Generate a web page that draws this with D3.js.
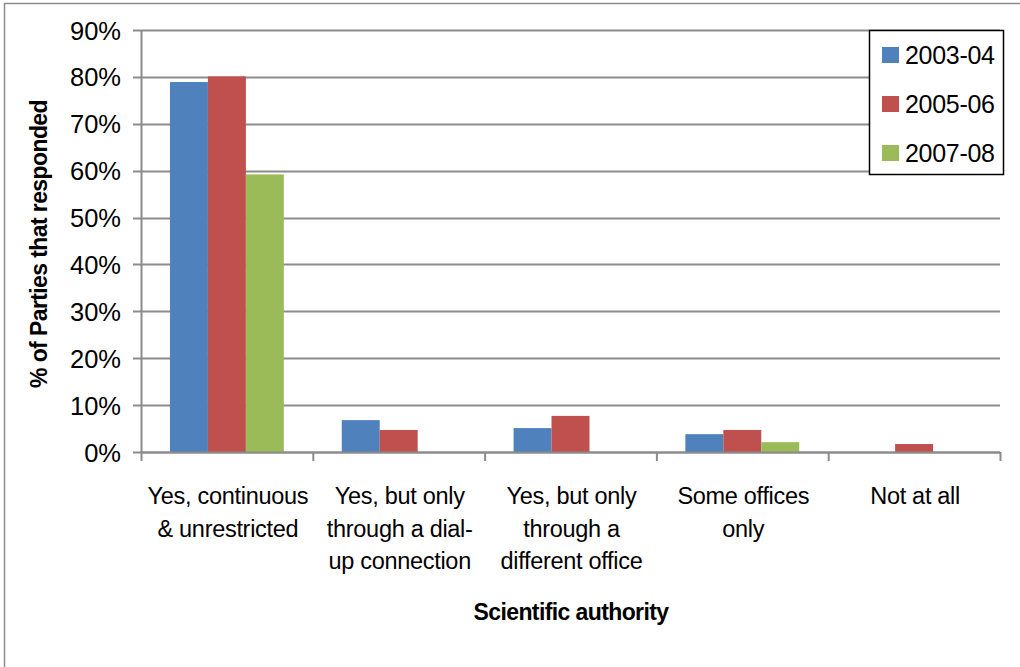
<!DOCTYPE html>
<html><head><meta charset="utf-8">
<script src="https://cdn.jsdelivr.net/npm/d3@7"></script>
<style>
body{margin:0;background:#fff;}
text{font-family:"Liberation Sans",Arial,sans-serif;fill:#000;}
</style></head>
<body><svg id="c" width="1020" height="667"></svg>
<script>
const categories = [
  ["Yes, continuous","& unrestricted"],
  ["Yes, but only","through a dial-","up connection"],
  ["Yes, but only","through a","different office"],
  ["Some offices","only"],
  ["Not at all"]
];
const seriesNames = ["2003-04","2005-06","2007-08"];
const colors = ["#4F81BD","#C0504D","#9BBB59"];
const v2003 = [78.9, 6.8, 5.1, 3.8, 0];
const v2005 = [80.1, 4.7, 7.7, 4.7, 1.7];
const v2007 = [59.2, 0, 0, 2.1, 0];
const yTicks = [0,10,20,30,40,50,60,70,80,90];
const series = [v2003, v2005, v2007];

const svg = d3.select("#c");
// outer chart border
svg.append("line").attr("x1",4).attr("x2",1020).attr("y1",3.5).attr("y2",3.5).attr("stroke","#8c8c8c").attr("stroke-width",1.5);
svg.append("line").attr("x1",4.5).attr("x2",4.5).attr("y1",3).attr("y2",667).attr("stroke","#8c8c8c").attr("stroke-width",1.5);

const L=141, R=1000, T=30, B=452;
const x = d3.scaleBand().domain(d3.range(categories.length)).range([L,R]).paddingInner(0).paddingOuter(0);
const y = d3.scaleLinear().domain([0,90]).range([B,T]);
const inner = d3.scaleBand().domain(d3.range(3)).range([0,x.bandwidth()]).paddingInner(0).paddingOuter(0.763);

// gridlines
svg.append("g").selectAll("line").data(yTicks).join("line")
  .attr("x1",L-8).attr("x2",R).attr("y1",d=>Math.round(y(d))+0.5).attr("y2",d=>Math.round(y(d))+0.5)
  .attr("stroke","#8c8c8c").attr("stroke-width",2);
// y labels
svg.append("g").selectAll("text").data(yTicks).join("text")
  .attr("x",121).attr("y",d=>y(d)+9.5).attr("text-anchor","end").attr("font-size",25.5)
  .text(d=>d+"%");

// bars
series.forEach((s,si)=>{
  svg.append("g").selectAll("rect").data(s).join("rect")
    .attr("x",(d,i)=>x(i)+inner(si)).attr("width",inner.bandwidth())
    .attr("y",d=>y(d)).attr("height",d=>B-y(d)).attr("fill",colors[si]);
});

// y axis line
svg.append("line").attr("x1",L+0.5).attr("x2",L+0.5).attr("y1",T).attr("y2",B).attr("stroke","#8c8c8c").attr("stroke-width",2);
// x axis line
svg.append("line").attr("x1",L).attr("x2",R).attr("y1",B+0.5).attr("y2",B+0.5).attr("stroke","#8c8c8c").attr("stroke-width",2);
// category ticks
const bounds = d3.range(categories.length+1).map(i=>L+i*x.step());
svg.append("g").selectAll("line").data(bounds).join("line")
  .attr("x1",d=>d+0.5).attr("x2",d=>d+0.5).attr("y1",B).attr("y2",B+9).attr("stroke","#8c8c8c").attr("stroke-width",2);

// category labels
categories.forEach((lines,i)=>{
  const t = svg.append("text").attr("text-anchor","middle").attr("font-size",23.5).attr("letter-spacing",-0.3);
  lines.forEach((ln,j)=>{
    t.append("tspan").attr("x",x(i)+x.bandwidth()/2+1).attr("y",504+j*32.5).text(ln);
  });
});

// axis titles
svg.append("text").attr("x",571).attr("y",620).attr("text-anchor","middle").attr("font-size",23).attr("font-weight","bold").attr("letter-spacing",-0.6).text("Scientific authority");
svg.append("text").attr("transform","translate(47,244) rotate(-90)").attr("text-anchor","middle").attr("font-size",23).attr("font-weight","bold").attr("letter-spacing",-0.6).text("% of Parties that responded");

// legend
const lg = svg.append("g");
lg.append("rect").attr("x",869.5).attr("y",30.5).attr("width",134).attr("height",144).attr("fill","#fff").attr("stroke","#000").attr("stroke-width",1.5);
seriesNames.forEach((n,i)=>{
  lg.append("rect").attr("x",882).attr("y",47+i*49).attr("width",17).attr("height",16).attr("fill",colors[i]);
  lg.append("text").attr("x",905).attr("y",64+i*49).attr("font-size",25).attr("letter-spacing",-0.3).text(n);
});
</script></body></html>
